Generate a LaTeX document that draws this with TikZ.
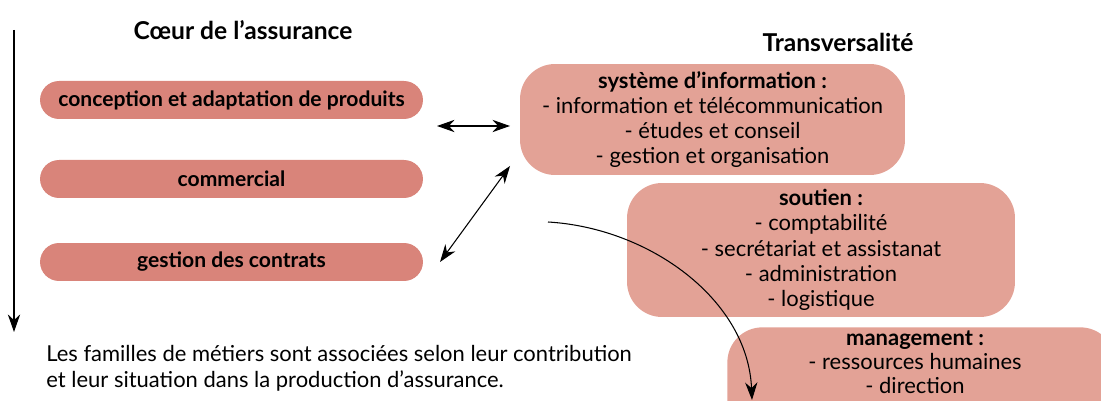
\documentclass[tikz,border=0pt]{standalone}
\usepackage{fontspec}
\setmainfont{Lato}
\usepackage{tikz}
\usetikzlibrary{arrows.meta,positioning}
\definecolor{coeurfill}{RGB}{217,132,122}
\definecolor{transfill}{RGB}{227,162,150}
\tikzset{
  coeurbox/.style={fill=coeurfill,rounded corners=0.38cm,minimum width=7.66cm,minimum height=0.76cm,
    inner sep=0pt,font=\bfseries\fontsize{12}{14}\selectfont},
  transbox/.style={fill=transfill,rounded corners=0.7cm,inner sep=0pt,align=center,
    font=\fontsize{12.5}{14.4}\selectfont},
  titre/.style={font=\bfseries\fontsize{14}{16}\selectfont},
  lien/.style={{Stealth[length=10pt,width=7pt]}-{Stealth[length=10pt,width=7pt]},line width=0.6pt},
  fleche/.style={-{Stealth[length=10pt,width=7pt]},line width=0.6pt}
}

\begin{document}
\begin{tikzpicture}[x=0.02cm,y=-0.02cm]
\useasboundingbox (0,0) rectangle (1101,401);
\clip (0,0) rectangle (1101,401);
% titres
\node[titre] (tcoeur) at (243,30) {Cœur de l’assurance};
\node[titre] (ttrans) at (838,42) {Transversalité};
% axe vertical
\coordinate (haut) at (14,30);
\coordinate (bas) at (14,332);
\draw[fleche] (haut) -- (bas);
% coeur de l'assurance
\node[coeurbox] (produits) at (231.5,100) {conception et adaptation de produits};
\node[coeurbox] (commercial) at (231.5,179) {commercial};
\node[coeurbox] (contrats) at (231.5,262) {gestion des contrats};
% transversalite
\node[transbox,minimum width=7.7cm,minimum height=2.22cm] (si) at (712.5,119.5)
  {\textbf{système d’information :}\\- information et télécommunication\\- études et conseil\\- gestion et organisation};
\node[transbox,minimum width=7.76cm,minimum height=2.68cm] (soutien) at (821,250)
  {\textbf{soutien :}\\- comptabilité\\- secrétariat et assistanat\\- administration\\- logistique};
\node[transbox,minimum width=7.76cm,minimum height=2.3cm,anchor=north west] (mgmt) at (727,327)
  {};
\node[align=center,font=\fontsize{12.5}{13.8}\selectfont,anchor=north,inner sep=0pt] (mgmttxt) at (915,330)
  {\textbf{management :}\\- ressources humaines\\- direction};
% liens
\coordinate (a1) at (437,126);
\coordinate (a2) at (510,126);
\draw[lien] (a1) -- (a2);
\coordinate (b1) at (440,262);
\coordinate (b2) at (510,166);
\draw[lien] (b1) -- (b2);
\coordinate (c1) at (548,222);
\coordinate (c2) at (752,400);
\draw[fleche] (c1) .. controls (650,228) and (748,300) .. (c2);
% legende
\node[anchor=north west,align=left,inner sep=0pt,font=\fontsize{12.5}{15}\selectfont] (legende) at (46,345)
  {Les familles de métiers sont associées selon leur contribution\\et leur situation dans la production d’assurance.};
\end{tikzpicture}
\end{document}
